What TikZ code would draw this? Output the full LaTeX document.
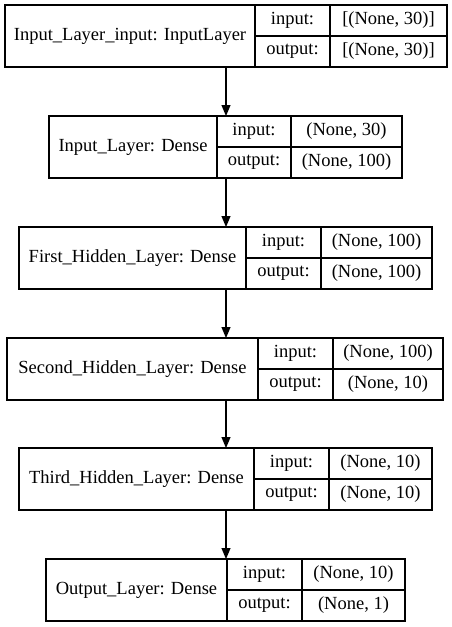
\documentclass[tikz,border=0pt]{standalone}
\usepackage{fontspec}
\setmainfont{Liberation Serif}
\usetikzlibrary{positioning,arrows.meta}
\begin{document}
\begin{tikzpicture}[x=1pt,y=-1pt]
	\tikzset{cell/.style = {shape=rectangle,draw,line width=1.2pt,inner sep=0pt,outer sep=0pt,minimum height=31pt,font=\fontsize{18.5}{20}\selectfont}}
	\tikzset{layername/.style = {cell,minimum height=62pt}}
	\tikzset{flow/.style = {line width=1.2pt,-{Triangle[length=11pt,width=9pt]}}}
	\useasboundingbox (0,0) rectangle (451,627);
	\coordinate (mid) at (226,0);
	% Input_Layer_input
	\node[layername,minimum width=250pt] (l1) at (130,36) {Input\_Layer\_input: InputLayer};
	\node[cell,minimum width=75pt,anchor=north west] (l1in) at (l1.north east) {input:};
	\node[cell,minimum width=75pt,below=0pt of l1in] (l1out) {output:};
	\node[cell,minimum width=117pt,right=0pt of l1in] (l1inval) {[(None, 30)]};
	\node[cell,minimum width=117pt,right=0pt of l1out] (l1outval) {[(None, 30)]};
	% Input_Layer
	\node[layername,minimum width=168pt] (l2) at (133,147) {Input\_Layer: Dense};
	\node[cell,minimum width=74pt,anchor=north west] (l2in) at (l2.north east) {input:};
	\node[cell,minimum width=74pt,below=0pt of l2in] (l2out) {output:};
	\node[cell,minimum width=111pt,right=0pt of l2in] (l2inval) {(None, 30)};
	\node[cell,minimum width=111pt,right=0pt of l2out] (l2outval) {(None, 100)};
	% First_Hidden_Layer
	\node[layername,minimum width=227pt] (l3) at (132.5,258) {First\_Hidden\_Layer: Dense};
	\node[cell,minimum width=75pt,anchor=north west] (l3in) at (l3.north east) {input:};
	\node[cell,minimum width=75pt,below=0pt of l3in] (l3out) {output:};
	\node[cell,minimum width=111pt,right=0pt of l3in] (l3inval) {(None, 100)};
	\node[cell,minimum width=111pt,right=0pt of l3out] (l3outval) {(None, 100)};
	% Second_Hidden_Layer
	\node[layername,minimum width=251pt] (l4) at (132.5,369) {Second\_Hidden\_Layer: Dense};
	\node[cell,minimum width=75pt,anchor=north west] (l4in) at (l4.north east) {input:};
	\node[cell,minimum width=75pt,below=0pt of l4in] (l4out) {output:};
	\node[cell,minimum width=110pt,right=0pt of l4in] (l4inval) {(None, 100)};
	\node[cell,minimum width=110pt,right=0pt of l4out] (l4outval) {(None, 10)};
	% Third_Hidden_Layer
	\node[layername,minimum width=235pt] (l5) at (136.5,479) {Third\_Hidden\_Layer: Dense};
	\node[cell,minimum width=75pt,anchor=north west] (l5in) at (l5.north east) {input:};
	\node[cell,minimum width=75pt,below=0pt of l5in] (l5out) {output:};
	\node[cell,minimum width=103pt,right=0pt of l5in] (l5inval) {(None, 10)};
	\node[cell,minimum width=103pt,right=0pt of l5out] (l5outval) {(None, 10)};
	% Output_Layer
	\node[layername,minimum width=181pt] (l6) at (136.5,590) {Output\_Layer: Dense};
	\node[cell,minimum width=75pt,anchor=north west] (l6in) at (l6.north east) {input:};
	\node[cell,minimum width=75pt,below=0pt of l6in] (l6out) {output:};
	\node[cell,minimum width=103pt,right=0pt of l6in] (l6inval) {(None, 10)};
	\node[cell,minimum width=103pt,right=0pt of l6out] (l6outval) {(None, 1)};
	% arrows
	\draw[flow] (l1.south -| mid) -- (l2.north -| mid);
	\draw[flow] (l2.south -| mid) -- (l3.north -| mid);
	\draw[flow] (l3.south -| mid) -- (l4.north -| mid);
	\draw[flow] (l4.south -| mid) -- (l5.north -| mid);
	\draw[flow] (l5.south -| mid) -- (l6.north -| mid);
\end{tikzpicture}
\end{document}
